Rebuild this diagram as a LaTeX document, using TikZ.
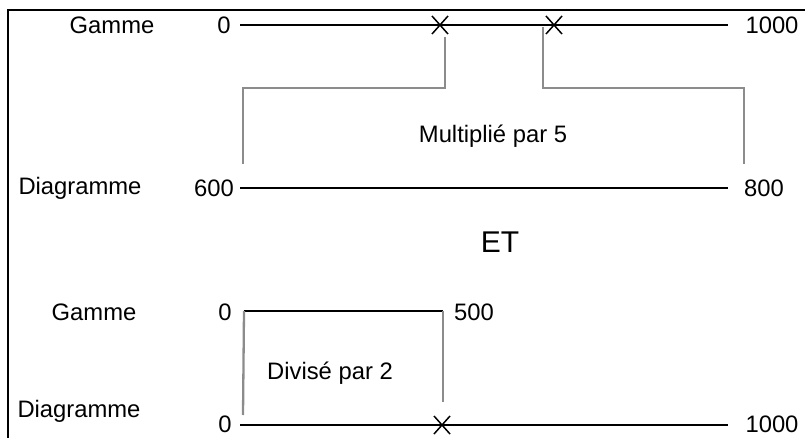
\documentclass[tikz,border=0pt]{standalone}
\usepackage{fontspec}
\setmainfont{Liberation Sans}
\usetikzlibrary{calc}
\begin{document}
\begin{tikzpicture}[x=1pt,y=-1pt,
  lbl/.style={inner sep=0pt, font=\fontsize{23.8}{26}\selectfont},
  axis/.style={line width=1.7pt, black},
  guide/.style={line width=2.3pt, black!45},
  cross/.style={line width=1.5pt, black},
  frame/.style={line width=1.6pt, black}]
\useasboundingbox (0,0) rectangle (805,438);
% frame (only top and left visible)
\draw[frame] (805,10) -- (8,10) -- (8,438);

% ---- Row 1: Gamme 0 .. 1000
\node[lbl] (g1) at (112,25) {Gamme};
\node[lbl] (z1) at (224,25) {0};
\node[lbl] (t1) at (772,25) {1000};
\coordinate (a1s) at (240,25);
\coordinate (a1e) at (728,25);
\draw[axis] (a1s) -- (a1e);
\coordinate (x1) at (440,25);
\coordinate (x2) at (554,25);
\foreach \p in {x1,x2}{
  \draw[cross] ($(\p)+(-8,-9)$) -- ($(\p)+(8,9)$);
  \draw[cross] ($(\p)+(-8,9)$) -- ($(\p)+(8,-9)$);
}

% ---- Row 2: Diagramme 600 .. 800
\node[lbl] (d2) at (80,188) {Diagramme};
\node[lbl] (s2) at (214,188) {600};
\node[lbl] (e2) at (764,188) {800};
\coordinate (a2s) at (240,188);
\coordinate (a2e) at (728,188);
\draw[axis] (a2s) -- (a2e);

% guides (multiplied by 5)
\coordinate (gl1) at (445,37);
\coordinate (gl2) at (445,88);
\coordinate (gl3) at (243,88);
\coordinate (gl4) at (243,164);
\draw[guide] (gl1) -- (gl2) -- (gl3) -- (gl4);
\coordinate (gr1) at (543,27);
\coordinate (gr2) at (543,88);
\coordinate (gr3) at (744,88);
\coordinate (gr4) at (744,164);
\draw[guide] (gr1) -- (gr2) -- (gr3) -- (gr4);
\node[lbl] (m5) at (493,136) {Multiplié par 5};

% ---- ET
\node[inner sep=0pt, font=\fontsize{30}{32}\selectfont] (et) at (500,242) {ET};

% ---- Row 3: Gamme 0 .. 500
\node[lbl] (g3) at (94,312) {Gamme};
\node[lbl] (z3) at (225,312) {0};
\node[lbl] (f3) at (474,312) {500};
\coordinate (a3s) at (244,311);
\coordinate (a3e) at (443,311);
\draw[axis] (a3s) -- (a3e);
\coordinate (v3l) at (243,415);
\coordinate (v3r) at (443,402);
\draw[guide] (a3s) -- (v3l);
\draw[guide] (a3e) -- (v3r);
\node[lbl] (d2b) at (330,373) {Divisé par 2};

% ---- Row 4: Diagramme 0 .. 1000
\node[lbl] (d4) at (79,411) {Diagramme};
\node[lbl] (z4) at (225,424) {0};
\node[lbl] (t4) at (772,424) {1000};
\coordinate (a4s) at (240,425);
\coordinate (a4e) at (728,425);
\draw[axis] (a4s) -- (a4e);
\coordinate (x3) at (442,425);
\draw[cross] ($(x3)+(-8,-9)$) -- ($(x3)+(8,9)$);
\draw[cross] ($(x3)+(-8,9)$) -- ($(x3)+(8,-9)$);
\end{tikzpicture}
\end{document}
